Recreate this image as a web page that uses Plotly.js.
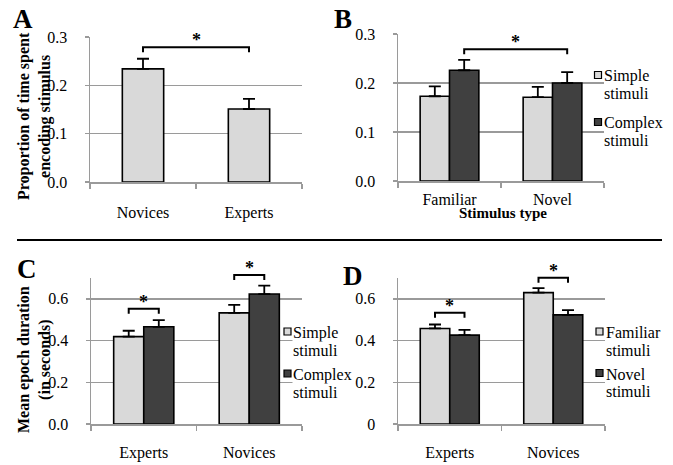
<!DOCTYPE html>
<html><head><meta charset="utf-8">
<script src="https://cdn.plot.ly/plotly-3.0.1.min.js"></script>
<style>html,body{margin:0;padding:0;background:#fff}#chart{width:673px;height:465px}</style>
</head><body><div id="chart"></div>
<script>
// ---- data ----
const catsA = ['Novices', 'Experts'];
const valsA = [0.234, 0.151];
const errA  = [0.021, 0.021];
const sigA  = [0.279];                 // bracket level, Novices vs Experts

const catsB = ['Familiar', 'Novel'];
const simpleB = [0.173, 0.171];
const simpleErrB = [0.020, 0.021];
const complexB = [0.226, 0.200];
const complexErrB = [0.021, 0.022];
const sigB = [0.269];                  // bracket level, complex Familiar vs complex Novel

const catsC = ['Experts', 'Novices'];
const simpleC = [0.419, 0.533];
const simpleErrC = [0.028, 0.038];
const complexC = [0.466, 0.623];
const complexErrC = [0.032, 0.040];
const sigC = [0.553, 0.714];           // bracket levels per group

const catsD = ['Experts', 'Novices'];
const familiarD = [0.458, 0.630];
const familiarErrD = [0.019, 0.021];
const novelD = [0.426, 0.523];
const novelErrD = [0.025, 0.023];
const sigD = [0.533, 0.701];

const legendB = [['Simple', 'stimuli'], ['Complex', 'stimuli']];
const legendC = [['Simple', 'stimuli'], ['Complex', 'stimuli']];
const legendD = [['Familiar', 'stimuli'], ['Novel', 'stimuli']];

// ---- styling / layout helpers ----
const W = 673, H = 465;
const px = x => x / W, py = y => 1 - y / H;
const FONT = 'Liberation Serif';
const LIGHT = '#d9d9d9', DARK = '#404040', GRID = '#9a9a9a';
const BARGAP = 0.43;

const dom = {
  A: {x: [px(90), px(302)], y: [py(182), py(37)], range: [0, 0.3]},
  B: {x: [px(398), px(604)], y: [py(181), py(34)], range: [0, 0.3]},
  C: {x: [px(91), px(302)], y: [py(424), py(278)], range: [0, 0.7]},
  D: {x: [px(398), px(605)], y: [py(424), py(278)], range: [0, 0.7]}
};

function barTrace(x, y, err, color, xa, ya, name, width) {
  const t = {
    type: 'bar', x: x, y: y, name: name, xaxis: xa, yaxis: ya,
    marker: {color: color, line: {color: '#000', width: 1.6}},
    error_y: {type: 'data', symmetric: false, array: err, arrayminus: err.map(() => 0),
              color: '#000', thickness: 1.8, width: 6},
    showlegend: false, hoverinfo: 'skip'
  };
  if (width) t.width = width;
  return t;
}

function xAx(d, anchor, standoff) {
  return {domain: d.x, anchor: anchor, type: 'category', showline: true, linecolor: GRID, linewidth: 1.5,
    ticks: 'outside', tickson: 'boundaries', ticklen: 5, tickcolor: GRID, tickwidth: 1.5,
    showgrid: false, zeroline: false, fixedrange: true,
    tickfont: {family: FONT, size: 16, color: '#000'}, ticklabelstandoff: standoff};
}
function yAx(d, anchor, dtick, fmt) {
  return {domain: d.y, anchor: anchor, range: d.range, tick0: 0, dtick: dtick, tickformat: fmt,
    showline: true, linecolor: GRID, linewidth: 1.5, ticks: 'outside', ticklen: 4, tickcolor: GRID, tickwidth: 1.5,
    showgrid: true, gridcolor: GRID, gridwidth: 1.5, zeroline: false, fixedrange: true,
    tickfont: {family: FONT, size: 16, color: '#000'}, ticklabelstandoff: 14};
}

const traces = [
  barTrace(catsA, valsA, errA, LIGHT, 'x', 'y', 'A', 0.39),
  barTrace(catsB, simpleB, simpleErrB, LIGHT, 'x2', 'y2', 'Simple stimuli'),
  barTrace(catsB, complexB, complexErrB, DARK, 'x2', 'y2', 'Complex stimuli'),
  barTrace(catsC, simpleC, simpleErrC, LIGHT, 'x3', 'y3', 'Simple stimuli'),
  barTrace(catsC, complexC, complexErrC, DARK, 'x3', 'y3', 'Complex stimuli'),
  barTrace(catsD, familiarD, familiarErrD, LIGHT, 'x4', 'y4', 'Familiar stimuli'),
  barTrace(catsD, novelD, novelErrD, DARK, 'x4', 'y4', 'Novel stimuli')
];

const shapes = [];
const annotations = [];

// category position (possibly fractional) -> paper x
function catX(d, n, c) { return d.x[0] + (c + 0.5) / n * (d.x[1] - d.x[0]); }
function valY(d, v) { return d.y[0] + (v - d.range[0]) / (d.range[1] - d.range[0]) * (d.y[1] - d.y[0]); }

function bracket(d, n, c0, c1, level) {
  const x0 = catX(d, n, c0), x1 = catX(d, n, c1), y = valY(d, level), yt = y - 5 / H;
  shapes.push({type: 'path', xref: 'paper', yref: 'paper',
    path: `M${x0},${yt} L${x0},${y} L${x1},${y} L${x1},${yt}`,
    line: {color: '#000', width: 2}});
  annotations.push({xref: 'paper', yref: 'paper', x: (x0 + x1) / 2, y: y, xanchor: 'center', yanchor: 'middle',
    yshift: 7, text: '<b>*</b>', showarrow: false, font: {family: FONT, size: 18, color: '#000'}});
}
const off = (1 - BARGAP) / 4;
bracket(dom.A, catsA.length, 0, 1, sigA[0]);
bracket(dom.B, catsB.length, 0 + off, 1 + off, sigB[0]);
sigC.forEach((lv, i) => bracket(dom.C, catsC.length, i - off, i + off, lv));
sigD.forEach((lv, i) => bracket(dom.D, catsD.length, i - off, i + off, lv));

function text(x, y, t, size, opts) {
  annotations.push(Object.assign({xref: 'paper', yref: 'paper', x: px(x), y: py(y), text: t, showarrow: false,
    xanchor: 'center', yanchor: 'middle', borderpad: 0,
    font: {family: FONT, size: size, color: '#000'}}, opts || {}));
}

// panel letters
text(23, 19, '<b>A</b>', 27);
text(342.5, 19, '<b>B</b>', 27);
text(27, 268.5, '<b>C</b>', 27);
text(352.5, 276, '<b>D</b>', 27);

// axis titles
text(34, 116, '<b>Proportion of time spent<br>encoding stimulus</b>', 16, {textangle: -90});
text(34, 360, '<b>Mean epoch duration<br>(in seconds)</b>', 16, {textangle: -90});
text(503, 213, '<b>Stimulus type</b>', 15);

// legends (square + two text lines)
function legend(entries, sqX, textX, rows, bg) {
  const colors = [LIGHT, DARK];
  entries.forEach((e, i) => {
    const r = rows[i];
    shapes.push({type: 'rect', xref: 'paper', yref: 'paper',
      x0: px(sqX - 3.5), x1: px(sqX + 3.5), y0: py(r + 3.5), y1: py(r - 3.5),
      fillcolor: colors[i], line: {color: '#000', width: 1.2}});
    const o = {xanchor: 'left'};
    if (bg) o.bgcolor = '#fff';
    text(textX, r + 1, e[0], 16, o);
    text(textX, r + 18.5, e[1], 16, o);
  });
}
legend(legendB, 598, 603, [75, 122], false);
legend(legendC, 287.5, 292, [331.5, 373.5], true);
legend(legendD, 599.5, 605, [331.5, 373], false);

// divider line
shapes.push({type: 'line', xref: 'paper', yref: 'paper', x0: px(17), x1: px(662), y0: py(240), y1: py(240),
  line: {color: '#000', width: 2.2}});

const layout = {
  width: W, height: H, margin: {l: 0, r: 0, t: 0, b: 0},
  paper_bgcolor: '#fff', plot_bgcolor: '#fff',
  barmode: 'group', bargap: BARGAP, bargroupgap: 0,
  showlegend: false,
  font: {family: FONT, size: 15, color: '#000'},
  xaxis: xAx(dom.A, 'y', 15),
  yaxis: yAx(dom.A, 'x', 0.1, '.1f'),
  xaxis2: xAx(dom.B, 'y2', 3),
  yaxis2: yAx(dom.B, 'x2', 0.1, '.1f'),
  xaxis3: xAx(dom.C, 'y3', 13),
  yaxis3: yAx(dom.C, 'x3', 0.2, '.1f'),
  xaxis4: xAx(dom.D, 'y4', 13),
  yaxis4: yAx(dom.D, 'x4', 0.2, ''),
  shapes: shapes,
  annotations: annotations
};

Plotly.newPlot('chart', traces, layout, {displayModeBar: false, staticPlot: true});
</script>
</body></html>
